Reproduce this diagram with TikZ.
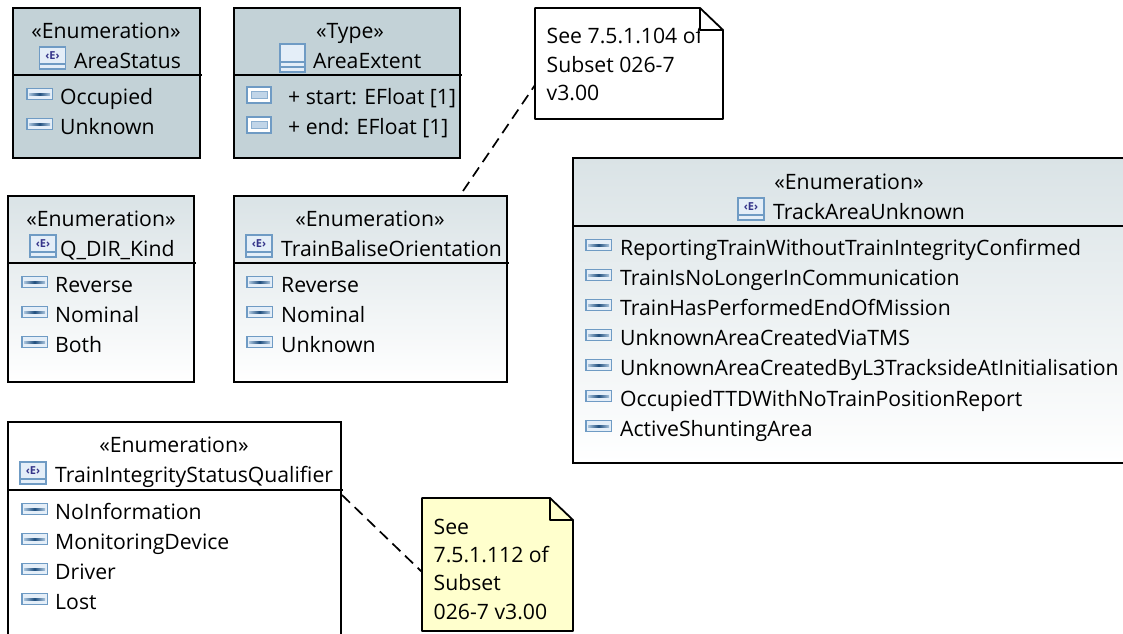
\documentclass[tikz,border=0pt]{standalone}
\usepackage{fontspec}
\setmainfont{Open Sans}
\definecolor{flatfill}{HTML}{C3D2D7}
\definecolor{gradtop}{HTML}{DAE3E6}
\definecolor{notefill}{HTML}{FFFFCD}
\definecolor{iconblue}{HTML}{6F9BC4}
\definecolor{icondark}{HTML}{1F4E7E}
\definecolor{iconpale}{HTML}{E4EEF8}
\definecolor{iconletter}{HTML}{35358A}
\tikzset{
  x=1pt,y=-1pt,
  umlbox/.style={draw=black,line width=1.8pt,rectangle,anchor=north west,inner sep=0pt,outer sep=0pt},
  flatbox/.style={umlbox,fill=flatfill},
  gradbox/.style={umlbox,top color=gradtop,bottom color=white},
  whitebox/.style={umlbox,fill=white},
  divider/.style={line width=1.8pt,draw=black},
  notebody/.style={draw=black,line width=1.8pt,line join=round},
  notelink/.style={draw=black,line width=1.7pt,dash pattern=on 11pt off 6.5pt},
  txt/.style={font=\fontsize{21.2}{24}\selectfont,inner sep=0pt,anchor=base west,text=black},
  ctxt/.style={txt,anchor=base},
  pics/liticon/.style={code={
    \draw[draw=iconblue,line width=1.6pt,fill=iconpale] (0.7,-5.6) rectangle (26.3,5.6);
    \shade[left color=iconblue!60,right color=iconblue!60,middle color=icondark] (3,-1) rectangle (24,1.4);
  }},
  pics/attricon/.style={code={
    \draw[draw=iconblue,line width=2.6pt,fill=white] (1,-8) rectangle (25,8);
    \draw[draw=iconblue!80,line width=1pt,fill=iconpale!70!iconblue] (5,-3.5) rectangle (21,3.5);
  }},
  pics/enumicon/.style={code={
    \draw[draw=iconblue,line width=1.6pt,fill=iconpale] (0,-11) rectangle (26,11);
    \draw[draw=iconblue,line width=1.2pt] (0,6) -- (26,6);
    \node[inner sep=0pt,text=iconletter,font=\fontsize{11}{11}\selectfont\bfseries] at (13,-2.5) {‹E›};
  }},
  pics/typeicon/.style={code={
    \draw[draw=iconblue,line width=1.6pt,fill=iconpale] (0,-14) rectangle (25,14);
    \draw[draw=iconblue,line width=1.3pt] (0,4) -- (25,4) (0,9) -- (25,9);
  }},
}
\newcommand{\boxat}[6]{\node[#1,minimum width=#4,minimum height=#5] (#2) at #3 {};\draw[divider] (#2.west |- 0,#6) -- ([xshift=1.5pt]#2.east |- 0,#6);}
\newcommand{\lit}[5]{\pic at (#3,#5-10) {liticon};\node[txt] (#1) at (#4,#5) {#2};}
\begin{document}
\begin{tikzpicture}
\useasboundingbox (0,0) rectangle (1123,633);
\clip (0,0) rectangle (1123,633);
\fill[white] (0,0) rectangle (1123,633);
% AreaStatus
\boxat{flatbox}{as}{(13,8)}{187pt}{150pt}{75}
\node[ctxt] (asS) at (106,38) {«Enumeration»};
\pic at (39.5,58) {enumicon};
\node[txt] (asN) at (74,68) {AreaStatus};
\lit{asA}{Occupied}{26}{60}{104}
\lit{asB}{Unknown}{26}{60}{134}
% AreaExtent
\boxat{flatbox}{ae}{(234,8)}{226pt}{150pt}{75}
\node[ctxt] (aeS) at (350,38) {«Type»};
\pic at (280,58) {typeicon};
\node[txt] (aeN) at (313,68) {AreaExtent};
\pic at (246,95) {attricon};
\node[txt] (aeA) at (288,104) {+ start: EFloat [1]};
\pic at (246,125) {attricon};
\node[txt] (aeB) at (288,134) {+ end: EFloat [1]};
% Q_DIR_Kind
\boxat{gradbox}{qd}{(8,196)}{186pt}{186pt}{263}
\node[ctxt] (qdS) at (101,226) {«Enumeration»};
\pic at (30,246) {enumicon};
\node[txt] (qdN) at (60,256) {Q\_DIR\_Kind};
\lit{qdA}{Reverse}{21}{55}{292}
\lit{qdB}{Nominal}{21}{55}{322}
\lit{qdC}{Both}{21}{55}{352}
% TrainBaliseOrientation
\boxat{gradbox}{tb}{(234,196)}{273pt}{186pt}{263}
\node[ctxt] (tbS) at (370,226) {«Enumeration»};
\pic at (246,246) {enumicon};
\node[txt] (tbN) at (281,256) {TrainBaliseOrientation};
\lit{tbA}{Reverse}{246}{281}{292}
\lit{tbB}{Nominal}{246}{281}{322}
\lit{tbC}{Unknown}{246}{281}{352}
% TrackAreaUnknown
\boxat{gradbox}{ta}{(573,158)}{560pt}{305pt}{226}
\node[ctxt] (taS) at (849,189) {«Enumeration»};
\pic at (738,209) {enumicon};
\node[txt] (taN) at (773,219) {TrackAreaUnknown};
\lit{taA}{ReportingTrainWithoutTrainIntegrityConfirmed}{585}{620}{255}
\lit{taB}{TrainIsNoLongerInCommunication}{585}{620}{285}
\lit{taC}{TrainHasPerformedEndOfMission}{585}{620}{315}
\lit{taD}{UnknownAreaCreatedViaTMS}{585}{620}{345}
\lit{taE}{UnknownAreaCreatedByL3TracksideAtInitialisation}{585}{620}{375}
\lit{taF}{OccupiedTTDWithNoTrainPositionReport}{585}{620}{406}
\lit{taG}{ActiveShuntingArea}{585}{620}{436}
% TrainIntegrityStatusQualifier
\boxat{whitebox}{ti}{(8,422)}{333pt}{225pt}{490}
\node[ctxt] (tiS) at (174,452) {«Enumeration»};
\pic at (20,473) {enumicon};
\node[txt] (tiN) at (55,482) {TrainIntegrityStatusQualifier};
\lit{tiA}{NoInformation}{21}{55}{519}
\lit{tiB}{MonitoringDevice}{21}{55}{549}
\lit{tiC}{Driver}{21}{55}{579}
\lit{tiD}{Lost}{21}{55}{609}
% Links
\coordinate (linkAfrom) at (463,191);
\coordinate (linkAto) at (535,85);
\coordinate (linkBfrom) at (342,495);
\coordinate (linkBto) at (422,572);
\draw[notelink] (linkAfrom) -- (linkAto);
\draw[notelink] (linkBfrom) -- (linkBto);
% Note 1
\node[inner sep=0pt,outer sep=0pt,minimum width=188pt,minimum height=111pt,anchor=north west] (noteA) at (535,8) {};
\draw[notebody,fill=white] (noteA.north west) -- (700,8) -- (723,30) -- (noteA.south east) -- (noteA.south west) -- cycle;
\draw[notebody] (700,8) -- (700,30) -- (723,30);
\begin{scope}
\clip (535,8) rectangle (699,119);
\node[txt] (noteAa) at (546.5,43) {See 7.5.1.104 of};
\end{scope}
\node[txt] (noteAb) at (546.5,72) {Subset 026-7};
\node[txt] (noteAc) at (546.5,100) {v3.00};
% Note 2
\node[inner sep=0pt,outer sep=0pt,minimum width=151pt,minimum height=133pt,anchor=north west] (noteB) at (422,498) {};
\draw[notebody,fill=notefill] (noteB.north west) -- (550,498) -- (573,520) -- (noteB.south east) -- (noteB.south west) -- cycle;
\draw[notebody] (550,498) -- (550,520) -- (573,520);
\node[txt] (noteBa) at (433.5,534) {See};
\node[txt] (noteBb) at (433.5,562) {7.5.1.112 of};
\node[txt] (noteBc) at (433.5,590) {Subset};
\node[txt] (noteBd) at (433.5,619) {026-7 v3.00};
\end{tikzpicture}
\end{document}
